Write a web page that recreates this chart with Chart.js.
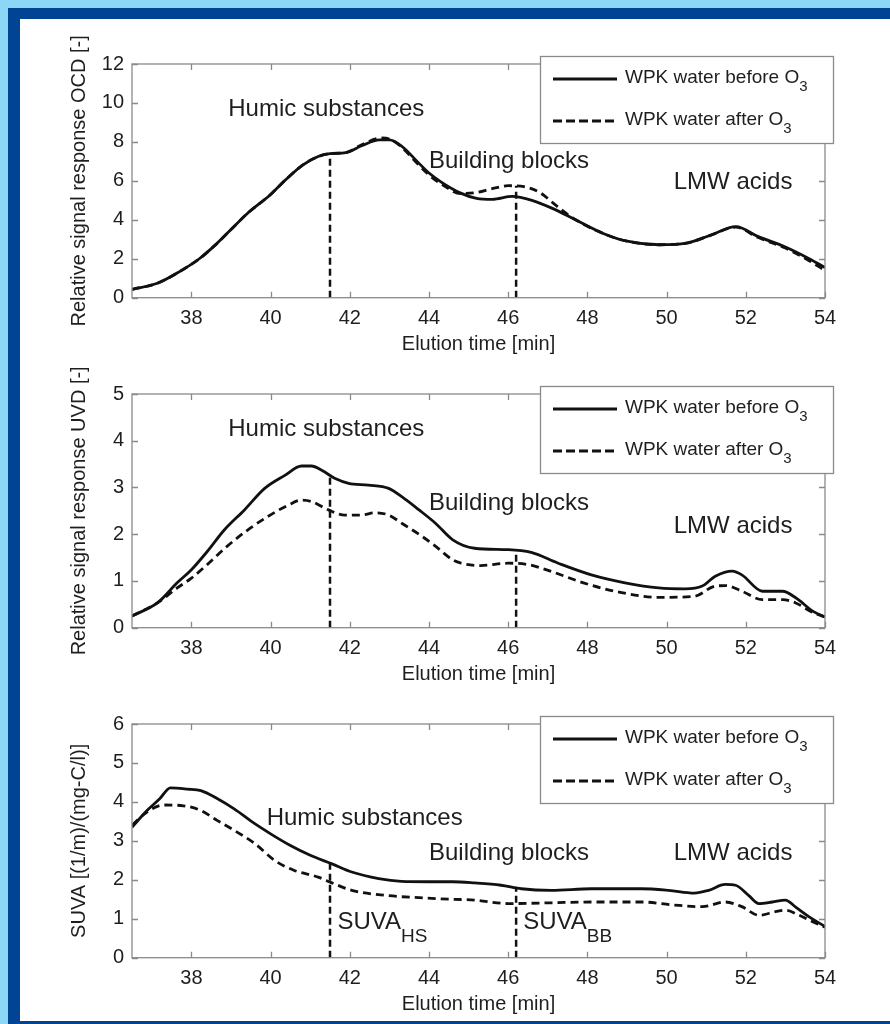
<!DOCTYPE html>
<html>
<head>
<meta charset="utf-8">
<script src="https://cdn.jsdelivr.net/npm/chart.js@4/dist/chart.umd.min.js"></script>
<style>
  html, body { margin: 0; overflow: hidden; background: #8cd6f6; }
  #frame { position: absolute; left: 8px; top: 8px; width: 882px; height: 1016px; background: #004493; }
  #paper { position: absolute; left: 20px; top: 19px; width: 870px; height: 1002px; background: #fff; }
  canvas { position: absolute; left: 20px; }
</style>
</head>
<body>
<div id="frame"></div>
<div id="paper"></div>
<canvas id="ocdChart" width="870" height="350" style="top:19px"></canvas>
<canvas id="uvdChart" width="870" height="350" style="top:349px"></canvas>
<canvas id="suvaChart" width="870" height="350" style="top:679px"></canvas>
<script>
// 축 눈금
const xTicks = [38, 40, 42, 44, 46, 48, 50, 52, 54];
const ocdTicks = [0, 2, 4, 6, 8, 10, 12];
const uvdTicks = [0, 1, 2, 3, 4, 5];
const suvaTicks = [0, 1, 2, 3, 4, 5, 6];

// 분획 경계 (HS / BB)
const hsTime = 41.5;
const bbTime = 46.2;

// OCD
const ocdBeforeT = [36.5, 37.14, 37.7, 38.2, 38.6, 39.0, 39.4, 40.0, 40.35, 40.8, 41.2, 41.5, 41.9, 42.3, 42.75, 43.0, 43.3, 43.7, 44.0, 44.3, 44.8, 45.2, 45.6, 46.1, 46.6, 47.1, 47.7, 48.4, 49.0, 49.8, 50.5, 51.1, 51.75, 52.3, 53.0, 53.6, 54.0];
const ocdBeforeY = [0.43, 0.74, 1.34, 2.0, 2.7, 3.5, 4.3, 5.3, 6.0, 6.8, 7.25, 7.4, 7.45, 7.8, 8.1, 8.1, 7.8, 7.0, 6.4, 5.95, 5.37, 5.1, 5.05, 5.2, 5.0, 4.6, 4.0, 3.3, 2.9, 2.72, 2.8, 3.2, 3.65, 3.15, 2.6, 2.0, 1.55];
const ocdAfterT = [36.5, 37.14, 37.7, 38.2, 38.6, 39.0, 39.4, 40.0, 40.35, 40.8, 41.2, 41.5, 41.9, 42.3, 42.8, 43.0, 43.3, 43.7, 44.0, 44.3, 44.8, 45.2, 45.6, 46.0, 46.4, 46.8, 47.2, 47.7, 48.4, 49.0, 49.8, 50.5, 51.1, 51.75, 52.3, 53.0, 53.6, 54.0];
const ocdAfterY = [0.43, 0.74, 1.34, 2.0, 2.7, 3.5, 4.3, 5.3, 6.0, 6.8, 7.25, 7.4, 7.45, 7.85, 8.2, 8.15, 7.75, 6.9, 6.3, 5.85, 5.35, 5.4, 5.6, 5.75, 5.7, 5.4, 4.75, 4.0, 3.3, 2.9, 2.72, 2.8, 3.2, 3.62, 3.1, 2.55, 1.9, 1.4];
const ocdCutTops = [7.4, 5.75];

// UVD
const uvdBeforeT = [36.5, 37.14, 37.64, 38.0, 38.4, 38.83, 39.34, 39.85, 40.36, 40.78, 41.03, 41.29, 41.63, 41.97, 42.47, 42.98, 43.32, 43.75, 44.17, 44.6, 45.15, 46.0, 46.58, 47.26, 48.1, 48.95, 49.8, 50.47, 50.9, 51.23, 51.66, 51.9, 52.42, 52.93, 53.26, 53.7, 54.0];
const uvdBeforeY = [0.25, 0.53, 0.96, 1.24, 1.63, 2.09, 2.52, 2.98, 3.26, 3.46, 3.46, 3.37, 3.19, 3.09, 3.05, 2.98, 2.8, 2.52, 2.23, 1.88, 1.7, 1.67, 1.61, 1.38, 1.13, 0.96, 0.85, 0.83, 0.89, 1.1, 1.21, 1.13, 0.78, 0.78, 0.64, 0.35, 0.23];
const uvdAfterT = [36.5, 37.14, 37.64, 38.0, 38.4, 38.9, 39.42, 39.93, 40.44, 40.78, 41.03, 41.46, 41.88, 42.3, 42.64, 42.98, 43.32, 43.83, 44.17, 44.6, 44.81, 45.3, 46.0, 46.5, 47.1, 47.9, 48.8, 49.8, 50.7, 51.23, 51.5, 51.9, 52.42, 52.93, 53.26, 53.7, 54.0];
const uvdAfterY = [0.25, 0.53, 0.85, 1.06, 1.35, 1.74, 2.09, 2.38, 2.62, 2.73, 2.7, 2.52, 2.41, 2.41, 2.46, 2.41, 2.23, 1.95, 1.74, 1.45, 1.38, 1.33, 1.38, 1.35, 1.2, 0.96, 0.76, 0.65, 0.67, 0.89, 0.9, 0.78, 0.6, 0.6, 0.53, 0.32, 0.23];
const uvdCutTops = [3.23, 1.56];

// SUVA
const suvaBeforeT = [36.5, 36.88, 37.2, 37.47, 37.9, 38.24, 38.66, 39.08, 39.6, 40.0, 40.5, 41.0, 41.55, 42.05, 42.73, 43.3, 44.0, 44.6, 45.15, 45.82, 46.33, 47.09, 48.1, 49.37, 50.05, 50.7, 51.06, 51.48, 51.74, 52.07, 52.33, 52.67, 53.0, 53.26, 53.6, 54.0];
const suvaBeforeY = [3.35, 3.78, 4.08, 4.36, 4.33, 4.29, 4.08, 3.82, 3.44, 3.18, 2.88, 2.63, 2.41, 2.2, 2.03, 1.96, 1.95, 1.95, 1.92, 1.86, 1.77, 1.73, 1.77, 1.77, 1.73, 1.66, 1.73, 1.88, 1.86, 1.6, 1.39, 1.43, 1.48, 1.3, 1.05, 0.8];
const suvaAfterT = [36.5, 36.88, 37.3, 37.8, 38.24, 38.66, 39.08, 39.6, 40.1, 40.6, 41.2, 41.55, 42.05, 42.9, 43.75, 44.6, 45.15, 45.99, 47.09, 48.1, 49.37, 50.2, 50.9, 51.48, 51.9, 52.33, 52.75, 53.0, 53.35, 53.7, 54.0];
const suvaAfterY = [3.4, 3.74, 3.92, 3.9, 3.78, 3.52, 3.27, 2.93, 2.5, 2.24, 2.07, 1.92, 1.73, 1.6, 1.54, 1.5, 1.48, 1.39, 1.41, 1.43, 1.43, 1.35, 1.31, 1.43, 1.31, 1.09, 1.18, 1.22, 1.09, 0.92, 0.78];
const suvaCutTops = [2.46, 1.82];

const FONT = '"Liberation Sans", Arial, sans-serif';
const INK = '#1e1e1e';
const BOX = '#8a8a8a';

function zip(xs, ys) {
    return xs.map((x, i) => ({ x: x, y: ys[i] }));
}

// 글자 + 아래첨자
function drawSub(ctx, x, y, main, sub, size, subSize, drop) {
    ctx.font = size + 'px ' + FONT;
    ctx.fillText(main, x, y);
    const w = ctx.measureText(main).width;
    ctx.font = subSize + 'px ' + FONT;
    ctx.fillText(sub, x + w, y + drop);
}

// 틀, 안쪽 눈금, 주석, 범례
const framePlugin = {
    id: 'frame',
    afterDatasetsDraw(chart, args, opts) {
        const ctx = chart.ctx;
        const a = chart.chartArea;
        const xs = chart.scales.x;
        const ys = chart.scales.y;
        ctx.save();
        ctx.strokeStyle = BOX;
        ctx.lineWidth = 1.3;
        ctx.beginPath();
        xTicks.forEach(v => {
            const px = Math.round(xs.getPixelForValue(v)) + 0.5;
            ctx.moveTo(px, a.bottom); ctx.lineTo(px, a.bottom - 6);
            ctx.moveTo(px, a.top); ctx.lineTo(px, a.top + 6);
        });
        opts.yTicks.forEach(v => {
            const py = Math.round(ys.getPixelForValue(v)) + 0.5;
            ctx.moveTo(a.left, py); ctx.lineTo(a.left + 6, py);
            ctx.moveTo(a.right, py); ctx.lineTo(a.right - 6, py);
        });
        ctx.stroke();
        ctx.strokeRect(a.left, a.top, a.width, a.height);

        // 주석 텍스트
        ctx.fillStyle = INK;
        ctx.textBaseline = 'middle';
        ctx.textAlign = 'left';
        opts.notes.forEach(n => {
            const px = xs.getPixelForValue(n.x);
            const py = ys.getPixelForValue(n.y);
            if (n.sub) {
                drawSub(ctx, px, py, n.text, n.sub, 24, 19, 14);
            } else {
                ctx.font = '24px ' + FONT;
                ctx.fillText(n.text, px, py);
            }
        });

        // 범례
        const lx = a.right - 285, ly = a.top - 8, lw = 293, lh = 87;
        ctx.fillStyle = '#fff';
        ctx.fillRect(lx, ly, lw, lh);
        ctx.strokeStyle = BOX;
        ctx.lineWidth = 1.3;
        ctx.strokeRect(lx + 0.5, ly + 0.5, lw, lh);
        const rows = [
            { text: 'WPK water before O', dash: [] },
            { text: 'WPK water after O', dash: [9, 4] }
        ];
        rows.forEach((r, i) => {
            const ry = ly + 22 + i * 42;
            ctx.strokeStyle = '#111';
            ctx.lineWidth = 2.8;
            ctx.setLineDash(r.dash);
            ctx.beginPath();
            ctx.moveTo(lx + 13, ry + 1);
            ctx.lineTo(lx + 77, ry + 1);
            ctx.stroke();
            ctx.setLineDash([]);
            ctx.fillStyle = INK;
            drawSub(ctx, lx + 85, ry, r.text, '3', 19, 15, 9);
        });
        ctx.restore();
    }
};

function makeChart(id, cfg) {
    const line = (data, dash) => ({
        data: data,
        borderColor: '#111',
        borderWidth: 2.8,
        borderDash: dash,
        pointRadius: 0,
        cubicInterpolationMode: 'monotone'
    });
    const cut = (t, top) => ({
        data: [{ x: t, y: 0 }, { x: t, y: top }],
        borderColor: '#111',
        borderWidth: 2.5,
        borderDash: [7, 4],
        pointRadius: 0,
        tension: 0
    });
    return new Chart(document.getElementById(id), {
        type: 'line',
        data: {
            datasets: [
                line(zip(cfg.beforeT, cfg.beforeY), []),
                line(zip(cfg.afterT, cfg.afterY), [8, 5]),
                cut(hsTime, cfg.cutTops[0]),
                cut(bbTime, cfg.cutTops[1])
            ]
        },
        options: {
            responsive: false,
            animation: false,
            layout: { padding: { top: 45, right: 65, left: 47, bottom: 20 } },
            plugins: {
                legend: { display: false },
                tooltip: { enabled: false },
                frame: { yTicks: cfg.yTicks, notes: cfg.notes }
            },
            scales: {
                x: {
                    type: 'linear',
                    min: 36.5,
                    max: 54,
                    afterBuildTicks: s => { s.ticks = xTicks.map(v => ({ value: v })); },
                    afterFit: s => { s.height = 51.3; },
                    grid: { display: false },
                    border: { display: false },
                    ticks: { padding: 1, color: INK, font: { family: FONT, size: 20 } },
                    title: {
                        display: true,
                        text: 'Elution time [min]',
                        color: INK,
                        padding: 0,
                        font: { family: FONT, size: 20, lineHeight: 0.5 }
                    }
                },
                y: {
                    min: cfg.yTicks[0],
                    max: cfg.yTicks[cfg.yTicks.length - 1],
                    afterBuildTicks: s => { s.ticks = cfg.yTicks.map(v => ({ value: v })); },
                    afterFit: s => { s.width = 65; },
                    grid: { display: false },
                    border: { display: false },
                    ticks: { padding: 0, color: INK, font: { family: FONT, size: 20 } },
                    title: {
                        display: true,
                        text: cfg.yTitle,
                        color: INK,
                        padding: 0,
                        font: { family: FONT, size: 20 }
                    }
                }
            }
        },
        plugins: [framePlugin]
    });
}

makeChart('ocdChart', {
    beforeT: ocdBeforeT, beforeY: ocdBeforeY,
    afterT: ocdAfterT, afterY: ocdAfterY,
    cutTops: ocdCutTops,
    yTicks: ocdTicks,
    yTitle: 'Relative signal response OCD [-]',
    notes: [
        { text: 'Humic substances', x: 38.93, y: 9.65 },
        { text: 'Building blocks', x: 44.0, y: 6.98 },
        { text: 'LMW acids', x: 50.18, y: 5.9 }
    ]
});

makeChart('uvdChart', {
    beforeT: uvdBeforeT, beforeY: uvdBeforeY,
    afterT: uvdAfterT, afterY: uvdAfterY,
    cutTops: uvdCutTops,
    yTicks: uvdTicks,
    yTitle: 'Relative signal response UVD [-]',
    notes: [
        { text: 'Humic substances', x: 38.93, y: 4.24 },
        { text: 'Building blocks', x: 44.0, y: 2.66 },
        { text: 'LMW acids', x: 50.18, y: 2.16 }
    ]
});

makeChart('suvaChart', {
    beforeT: suvaBeforeT, beforeY: suvaBeforeY,
    afterT: suvaAfterT, afterY: suvaAfterY,
    cutTops: suvaCutTops,
    yTicks: suvaTicks,
    yTitle: 'SUVA [(1/m)/(mg-C/l)]',
    notes: [
        { text: 'Humic substances', x: 39.9, y: 3.58 },
        { text: 'Building blocks', x: 44.0, y: 2.69 },
        { text: 'LMW acids', x: 50.18, y: 2.69 },
        { text: 'SUVA', sub: 'HS', x: 41.69, y: 0.9 },
        { text: 'SUVA', sub: 'BB', x: 46.38, y: 0.9 }
    ]
});
</script>
</body>
</html>
